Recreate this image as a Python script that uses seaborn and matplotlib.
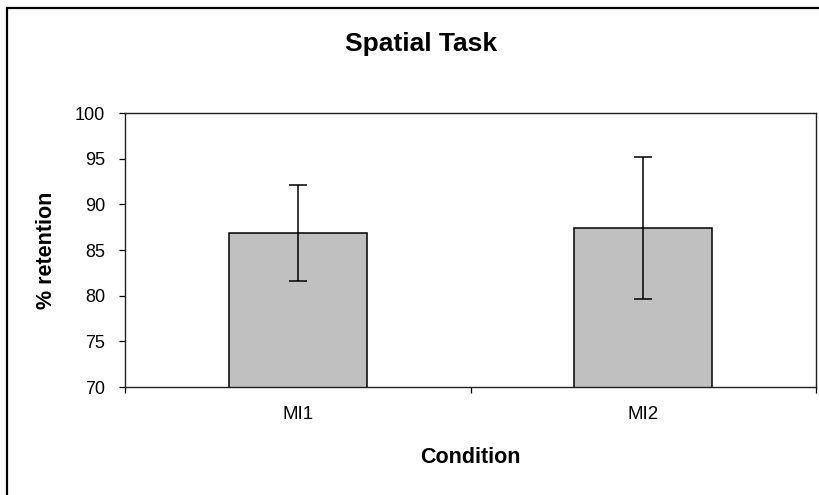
import matplotlib
matplotlib.use("Agg")
import matplotlib.pyplot as plt
import matplotlib.patches as patches
import seaborn as sns

# data
conditions = ["MI1", "MI2"]
means = [86.9, 87.4]
errors = [5.25, 7.8]

sns.set_style("white")
plt.rcParams['font.family'] = ['Liberation Sans', 'DejaVu Sans']
plt.rcParams['text.color'] = 'black'
plt.rcParams['axes.labelcolor'] = 'black'

fig = plt.figure(figsize=(8.19, 4.95), dpi=100)
ax = fig.add_axes([125 / 819, 1 - 387 / 495, 691 / 819, 274 / 495])

sns.barplot(x=conditions, y=means, color="#C0C0C0", edgecolor="black",
            linewidth=1.1, width=0.4, saturation=1, ax=ax)
ax.errorbar(range(len(conditions)), means, yerr=errors, fmt="none",
            ecolor="black", elinewidth=1.1, capsize=6.5, capthick=1.1)

# y axis
ax.set_ylim(70, 100)
ax.set_yticks(range(70, 101, 5))
ax.tick_params(axis="y", direction="out", length=4.3, width=0.9,
               pad=10, labelsize=13, colors="black", left=True)

# x axis: ticks at category boundaries, labels at centres
ax.set_xlim(-0.5, 1.5)
ax.set_xticks([-0.5, 0.5, 1.5])
ax.set_xticklabels([])
ax.set_xticks([0, 1], minor=True)
ax.set_xticklabels(conditions, minor=True)
ax.tick_params(axis="x", which="major", direction="out", length=4.3,
               width=0.9, colors="black", bottom=True)
ax.tick_params(axis="x", which="minor", length=0, pad=14, labelsize=13.5,
               colors="black")

for side in ["left", "right", "top", "bottom"]:
    ax.spines[side].set_visible(True)
    ax.spines[side].set_color("#202020")
    ax.spines[side].set_linewidth(1.0)

ax.set_xlabel("Condition", fontsize=15.5, fontweight="bold", color="black")
ax.set_ylabel("% retention", fontsize=15.5, fontweight="bold", color="black")
ax.xaxis.set_label_coords(0.5, -(447 - 387) / 274)
ax.yaxis.set_label_coords((57 - 125) / 691, 0.5)

fig.text(421 / 819, 1 - 44 / 495, "Spatial Task", ha="center", va="center",
         fontsize=19, fontweight="bold", color="black")

# outer chart frame (runs past the right and bottom edges of the image)
fig.patches.append(patches.Rectangle((6.5 / 819, -0.2), 1.2, 1.2 - 8 / 495,
                                     transform=fig.transFigure, fill=False,
                                     edgecolor="black", linewidth=1.6))

fig.savefig("out.png", dpi=100)
